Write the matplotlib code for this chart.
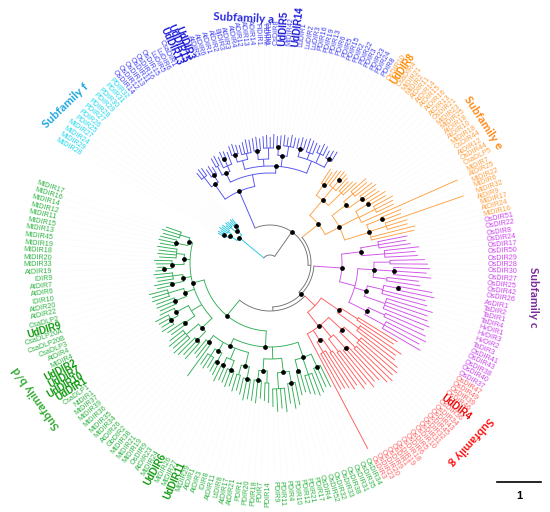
import numpy as np
import matplotlib.pyplot as plt

plt.rcParams['font.family'] = ['Liberation Sans', 'DejaVu Sans']

# centre of the circular tree and radius where labels start (pixels)
CX, CY = 270, 263
R_LAB = 218

# leaf labels of each subfamily, clockwise
f_labels = ['MtDIR28', 'MtDIR29', 'MtDIR24', 'MtDIR27', 'PDIR25', 'PDIR26',
            'PDIR27', 'PDIR28', 'PDIR29', 'PDIR30', 'PDIR31', 'PDIR32']
a_labels = ['OsDIR14', 'OsDIR12', 'OsDIR13', 'OsDIR11', 'OsDIR16', 'OsDIR15', 'LuDIR5', 'LuDIR6',
            'CsaDIR1', 'UdDIR13', 'UdDIR15', 'UdDIR3', 'AtDIR5', 'AtDIR6', 'AtDIR1', 'AtDIR2',
            'BjDIR3', 'AtDIR3', 'AtDIR4', 'ADIR12', 'ADIR13', 'ADIR14', 'FiDIR1', 'FiDIR2',
            'ThDIR1', 'CsDIR8', 'UdDIR5', 'MtDIR42', 'UdDIR14', 'LuDIR1', 'LuDIR2', 'LuDIR3',
            'PDIR16', 'PDIR19', 'PDIR13', 'PDIR6', 'PDIR5', 'PDIR15', 'PDIR2', 'PDIR22',
            'PDIR3', 'PDIR23', 'PDIR24', 'PDIR8']
e_labels = ['OsDIR10', 'UdDIR8', 'CsaDIR4', 'MtDIR21', 'MtDIR2', 'AtDIR11', 'AtDIR14', 'AtDIR15',
            'AtDIR16', 'AtDIR13', 'OsDIR21', 'MtDIR23', 'MtDIR25', 'AtDIR18', 'AtDIR10', 'MtDIR18',
            'CsDIR44', 'AtDIR12', 'OsDIR44', 'CsaDLP5', 'MtDIR7', 'AtDIR25', 'MtDIR22', 'MtDIR6',
            'MtDIR32', 'AtDIR9', 'MtDIR17', 'AtDIR24', 'MtDIR16']
c_labels = ['OsDIR51', 'OsDIR22', 'OsDIR8', 'OsDIR24', 'OsDIR17', 'OsDIR50', 'OsDIR29', 'OsDIR28',
            'OsDIR30', 'OsDIR27', 'OsDIR25', 'OsDIR42', 'OsDIR26', 'AsDIR1', 'TaDIR2', 'TaDIR1',
            'TaDIR4', 'HvDIR1', 'HvDIR3', 'HvDIR2', 'TaDIR3', 'OsDIR41', 'OsDIR43', 'OsDIR38',
            'OsDIR40', 'OsDIR37']
g_labels = ['OsDIR47', 'OsDIR49', 'OsDIR39', 'OsDIR46', 'UdDIR4', 'OsDIR36', 'OsDIR34', 'OsDIR43',
            'OsDIR45', 'OsDIR32', 'OsDIR31', 'OsDIR10', 'OsDIR5', 'OsDIR6', 'OsDIR18', 'OsDIR19',
            'OsDIR1', 'OsDIR9', 'OsDIR20', 'OsDIR23', 'OsDIR3']
b_labels = ['OsDIR34', 'OsDIR35', 'OsDIR31', 'OsDIR38', 'OsDIR33', 'OsDIR32', 'OsDIR52', 'OsDIR4',
            'PDIR17', 'PDIR21', 'PDIR12', 'PDIR10', 'PDIR4', 'PDIR11', 'PDIR9', 'PDIR14',
            'PDIR7', 'PDIR18', 'PDIR20', 'PDIR1', 'AtDIR21', 'AtDIR17', 'LtDIR8', 'AtDIR11',
            'IDIR8', 'AtDIR3', 'AtDIR1', 'MtDIR29', 'UdDIR11', 'MtDIR27', 'MtDIR26', 'UdDIR6',
            'MtDIR24', 'AtDIR23', 'OsDIR9', 'MtDIR19', 'MtDIR21', 'MtDIR38', 'GbDIR2', 'AtDIR26',
            'MtDIR34', 'MtDIR35', 'MtDIR36', 'MtDIR39', 'MtDIR37', 'NtDIR1', 'CsaDLP1', 'UdDIR1',
            'UdDIR10', 'UdDIR7', 'UdDIR2', 'MtDIR4', 'AtDIR4', 'CsaDLP3', 'CsaDLP20B', 'CsaDLP20A',
            'UdDIR9', 'CsaDLP2', 'AtDIR22', 'AtDIR20', 'IDIR10', 'AtDIR6', 'AtDIR7', 'IDIR9',
            'AtDIR19', 'MtDIR33', 'MtDIR20', 'MtDIR18', 'MtDIR19', 'MtDIR45', 'MtDIR13', 'MtDIR15',
            'MtDIR11', 'MtDIR12', 'MtDIR14', 'MtDIR16', 'MtDIR17']

# trees: [node radius, bootstrap dot, children...], a number is a leaf tip radius
f_tree = [40, 1, [48, 1, [54, 1, 60, 61, 59], [52, 0, 62, 60, 61]],
          [46, 1, [53, 0, 58, 60, 59], [50, 1, 57, 59, 58]]]
a_tree = [78, 1,
          [96, 1, [108, 0, 116, 118, 117], [104, 1, 113, 115, 112]],
          [90, 0,
           [100, 1, [110, 0, 120, 121], [106, 0, 118, [114, 1, 122, 121], 119]],
           [97, 1,
            [106, 0, [114, 1, 124, 125, 123], [112, 0, 122, 124, 126, 125]],
            [104, 0, [113, 1, 126, 127, 125], [115, 0, 127, 128, 126, 129]],
            [108, 1, [116, 1, 127, 128], [118, 0, 129, 127, 130, 128]],
            [110, 0, [118, 1, 128, 130, 129], [117, 0, 131, 130, 129],
             [120, 0, 128, 131, 130], [119, 1, 127, 129, 130]]]]]
e_tree = [62, 1,
          [82, 1, [95, 1, 112, 110, 114], [98, 0, 116, [108, 1, 118, 117], 115],
           [100, 0, 113, 116, 118]],
          [78, 1,
           [96, 1, [108, 0, 128, 126, 130], [112, 1, 132, 129, 131]],
           [100, 0, [114, 1, 136, 134], [118, 0, 140, 138, 137], 205],
           [104, 1, [120, 1, 142, 140], [122, 0, 205, 144, 143], 150, 148]]]
c_tree = [72, 1,
          [92, 1, [110, 0, 140, 138, 142], [115, 0, 150, 146, 148]],
          [88, 0,
           [104, 1, [120, 0, 155, 158], [124, 1, 160, 157, 162], [118, 0, 150, 152]],
           [100, 1, [116, 0, [130, 1, 165, 168], 160, 163], [122, 0, 170, 166, 168, 172]],
           [108, 1, [126, 0, 168, 172], [130, 0, 175, 170, 174]]]]
g_tree = [62, 0,
          [84, 1, [104, 0, 150, 148], [110, 0, 160, 156, 158]],
          [80, 1,
           [98, 1, [118, 0, 165, 168, 166], [120, 0, 170, 167]],
           [96, 0, [114, 1, 160, 158, 162], [112, 0, 155, 157]],
           [92, 1, [108, 0, 150, 152], [104, 0, 148, 146, 145]],
           210]]
b_tree = [68, 1,
          [84, 1,
           [100, 1, [114, 1, 138, 136, 140], [118, 0, 142, 139, 137], [112, 1, 134, 136]],
           [96, 0,
            [110, 1, [122, 1, 145, 148, 142], [126, 0, 150, 146, 149, 144]],
            [108, 1, [120, 0, 140, 138], [118, 1, 136, 141, 139]]],
           [92, 1,
            [106, 1, [118, 1, 138, 140, 135], [116, 0, 132, 134]],
            [104, 0, [114, 1, 130, 132, 129], [112, 1, 128, 131]],
            [102, 1, [112, 1, 126, 124], [110, 0, 122, 125, 123]],
            [100, 1, 140, 120, 118]]],
          [80, 1,
           [94, 1, [106, 1, 128, 126, 130], [110, 0, 132, 129, 131, 127]],
           [92, 0, [104, 1, 122, 124], [106, 1, [114, 1, 128, 126, 127, 129], 122]],
           [90, 1, [102, 1, 120, 122, 121], [106, 0, 124, 123, 125]],
           [88, 1, [100, 1, 116, 118], [98, 0, 114, 115, 117]],
           [86, 1, [98, 1, [106, 1, 115, 113], 114, 116], [94, 0, 111, 113, 112, 114]],
           [84, 1, [96, 1, 112, 114, 113], [94, 0, 111, 113, 110]]]]

# backbone joining the subfamilies
backbone = [8, 0, 'f', [38, 1, 'a', [41, 0, 'e', [44, 1, 'c', [48, 0, 'g', 'b']]]]]

# angular span of each subfamily's labels (degrees, clockwise)
spans = {'f': (151, 130), 'a': (130, 58), 'e': (58, 12), 'c': (12, -31), 'g': (-31, -63), 'b': (-63, -200)}
labels = {'f': f_labels, 'a': a_labels, 'e': e_labels, 'c': c_labels, 'g': g_labels, 'b': b_labels}
trees = {'f': f_tree, 'a': a_tree, 'e': e_tree, 'c': c_tree, 'g': g_tree, 'b': b_tree}
line_col = {'f': '#22c8e0', 'a': '#5050ee', 'e': '#ffa040', 'c': '#d050e8', 'g': '#ff5a5a', 'b': '#2fae55'}
text_col = {'f': '#22d8ee', 'a': '#4444f2', 'e': '#ffa040', 'c': '#cc44ee', 'g': '#ff6262', 'b': '#2fb443'}
ud_col = {'f': '#00aacc', 'a': '#1a1ad8', 'e': '#ff8a00', 'c': '#9a22cc', 'g': '#ee0000', 'b': '#109a10'}

titles = ['Subfamily a', 'Subfamily e', 'Subfamily c', 'Subfamily g', 'Subfamily b/d', 'Subfamily f']
title_col = ['#2a2ae0', '#ff8a1a', '#7a2a9a', '#ff1010', '#33aa33', '#1ea7e0']
title_xy = [(244, 18), (483, 123), (533, 297), (471, 441), (36, 398), (65, 106)]
title_rot = [-3, -57, -90, -132, 125, 44]


def pt(r, a):
    t = np.radians(a)
    return CX + r * np.cos(t), CY - r * np.sin(t)


def radial(ax, a, r0, r1, col):
    x0, y0 = pt(r0, a)
    x1, y1 = pt(r1, a)
    ax.plot([x0, x1], [y0, y1], color=col, lw=0.65, solid_capstyle='butt')


def arc(ax, a0, a1, r, col):
    t = np.linspace(a0, a1, 60)
    x, y = pt(r, t)
    ax.plot(x, y, color=col, lw=0.65)


def draw(ax, node, leaves, col):
    # returns angle and radius of the node
    if not isinstance(node, list):
        a = next(leaves)
        xs, ys = zip(pt(node, a), pt(R_LAB - 2, a))
        ax.plot(xs, ys, color='#f0f0f0', lw=0.35, ls=':', zorder=0)
        return a, node
    r, dot, *kids = node
    pts = []
    for k in kids:
        if isinstance(k, str):
            n = len(labels[k])
            s0, s1 = spans[k]
            angs = [s0 - (i + 0.5) * (s0 - s1) / n for i in range(n)]
            pts.append(draw(ax, trees[k], iter(angs), line_col[k]) + (line_col[k],))
        else:
            pts.append(draw(ax, k, leaves, col) + (col,))
    for a, rr, c in pts:
        radial(ax, a, r, rr, c)
    arc(ax, pts[0][0], pts[-1][0], r, col)
    ang = (pts[0][0] + pts[-1][0]) / 2
    if dot:
        x, y = pt(r, ang)
        ax.plot(x, y, 'o', color='black', ms=2.4, zorder=5)
    return ang, r


fig = plt.figure(figsize=(5.5, 5.12), dpi=100)
ax = fig.add_axes([0, 0, 1, 1])
ax.set_xlim(0, 550)
ax.set_ylim(512, 0)
ax.axis('off')

draw(ax, backbone, None, '#707070')

# leaf labels
for key, names in labels.items():
    s0, s1 = spans[key]
    n = len(names)
    for i, name in enumerate(names):
        a = s0 - (i + 0.5) * (s0 - s1) / n
        t = (a + 180) % 360 - 180
        if -90 <= t <= 90:
            rot, ha = t, 'left'
        else:
            rot, ha = t - 180, 'right'
        x, y = pt(R_LAB, a)
        ud = name.startswith('UdDIR')
        ax.text(x, y, name, rotation=rot, rotation_mode='anchor', ha=ha, va='center',
                fontsize=7 if ud else 5.2, fontweight='bold' if ud else 'normal',
                color=ud_col[key] if ud else text_col[key])

for t, c, (x, y), r in zip(titles, title_col, title_xy, title_rot):
    ax.text(x, y, t, color=c, rotation=r, rotation_mode='anchor', ha='center', va='center',
            fontsize=8.5, fontweight='bold', family=['Lato', 'DejaVu Sans'])

# scale bar
ax.plot([497, 541], [482, 482], color='black', lw=1.2)
ax.text(519, 496, '1', ha='center', va='center', fontsize=8, fontweight='bold')

fig.savefig('out.png', dpi=100, facecolor='white')
